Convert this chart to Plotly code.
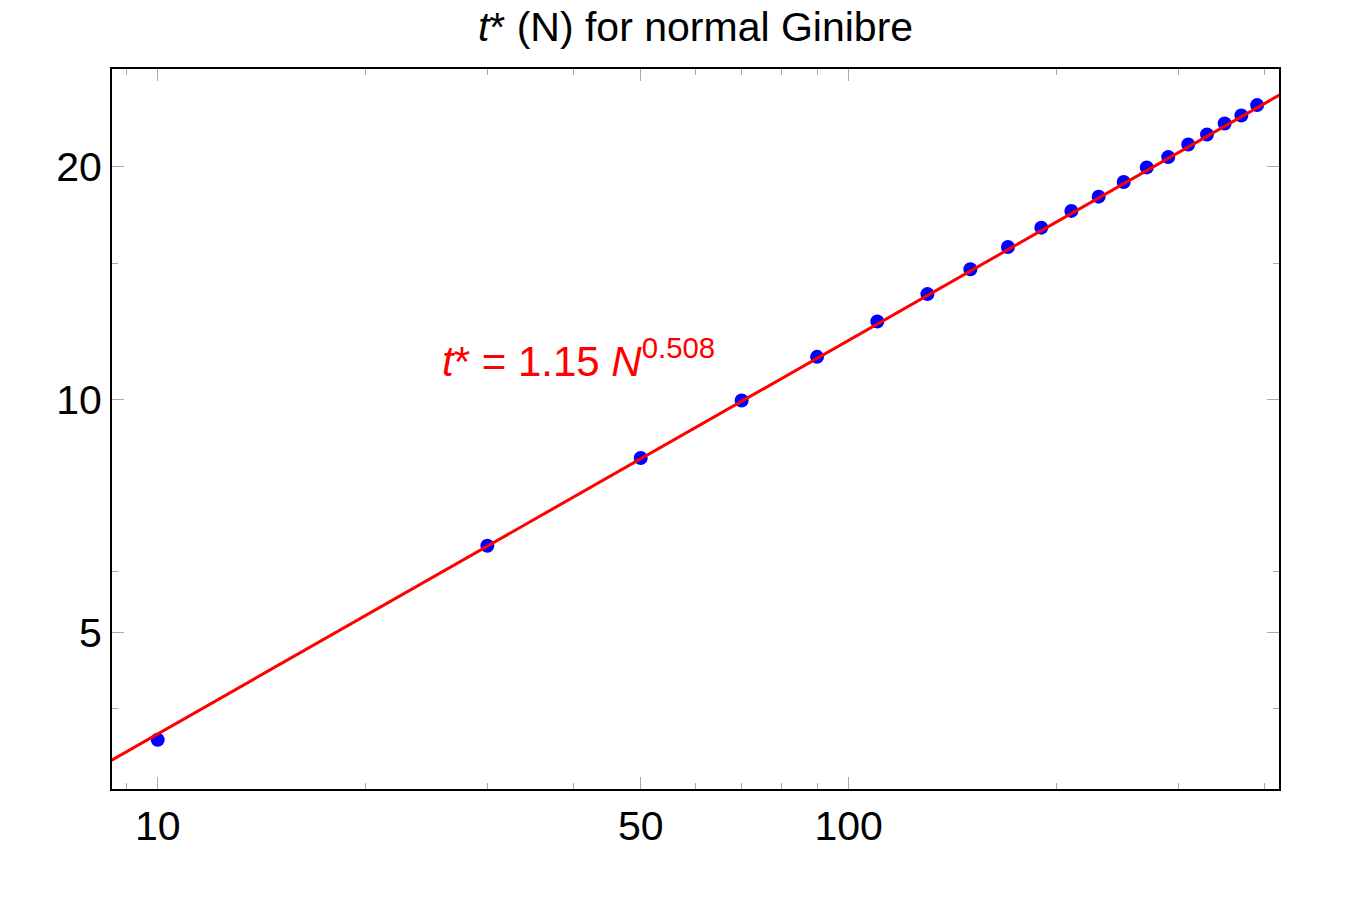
import plotly.graph_objects as go

# Data
N_values = [10, 30, 50, 70, 90, 110, 130, 150, 170, 190,
            210, 230, 250, 270, 290, 310, 330, 350, 370, 390]
t_star = [3.64, 6.48, 8.41, 9.98, 11.36, 12.62, 13.69, 14.74, 15.75, 16.68,
          17.53, 18.29, 19.10, 19.95, 20.57, 21.36, 22.00, 22.73, 23.28, 24.01]

# Fit line endpoints (t* = 1.15 N^0.508)
fit_N = [8.5, 430]
fit_t = [3.41, 25.04]

x_major = [10, 50, 100]
x_major_labels = ["10", "50", "100"]
x_minor = [9, 20, 30, 40, 60, 70, 80, 90, 200, 300, 400]
y_major = [5, 10, 20]
y_major_labels = ["5", "10", "20"]
y_minor = [4, 6, 15]

FONT = "Liberation Sans, Arial, sans-serif"

fig = go.Figure()
fig.add_trace(go.Scatter(
    x=N_values, y=t_star, mode="markers",
    marker=dict(color="#0000FF", size=14, line=dict(width=0)),
    showlegend=False, hoverinfo="x+y"))
fig.add_trace(go.Scatter(
    x=fit_N, y=fit_t, mode="lines",
    line=dict(color="#FF0000", width=3),
    showlegend=False, hoverinfo="skip"))

axis_common = dict(
    type="log",
    showgrid=False, zeroline=False,
    showline=True, linecolor="black", linewidth=2, mirror="ticks",
    ticks="inside", ticklen=12, tickwidth=1, tickcolor="#aaaaaa",
    tickfont=dict(family=FONT, size=41, color="black"),
)

fig.update_xaxes(
    **axis_common,
    range=[0.9339, 2.6227],
    tickmode="array", tickvals=x_major, ticktext=x_major_labels,
    minor=dict(tickmode="array", tickvals=x_minor, ticks="inside",
               ticklen=6, tickwidth=1, tickcolor="#aaaaaa", showgrid=False),
)
fig.update_yaxes(
    **axis_common,
    range=[0.4975, 1.4270],
    tickmode="array", tickvals=y_major, ticktext=y_major_labels,
    minor=dict(tickmode="array", tickvals=y_minor, ticks="inside",
               ticklen=6, tickwidth=1, tickcolor="#aaaaaa", showgrid=False),
)

fig.add_annotation(
    xref="paper", yref="paper", x=0.281, y=0.598,
    xanchor="left", yanchor="middle", showarrow=False,
    text="<i>t</i>* = 1.15 <i>N</i><sup>0.508</sup>",
    font=dict(family=FONT, size=42, color="#FF0000"),
)

fig.update_layout(
    width=1350, height=907,
    margin=dict(l=112, r=71, t=69, b=118),
    paper_bgcolor="white", plot_bgcolor="white",
    title=dict(
        text="<i>t</i>* (N) for normal Ginibre",
        x=0.5152, xanchor="center", y=0.971, yanchor="middle",
        font=dict(family=FONT, size=41, color="black"),
    ),
)

fig.write_html("out.html")
